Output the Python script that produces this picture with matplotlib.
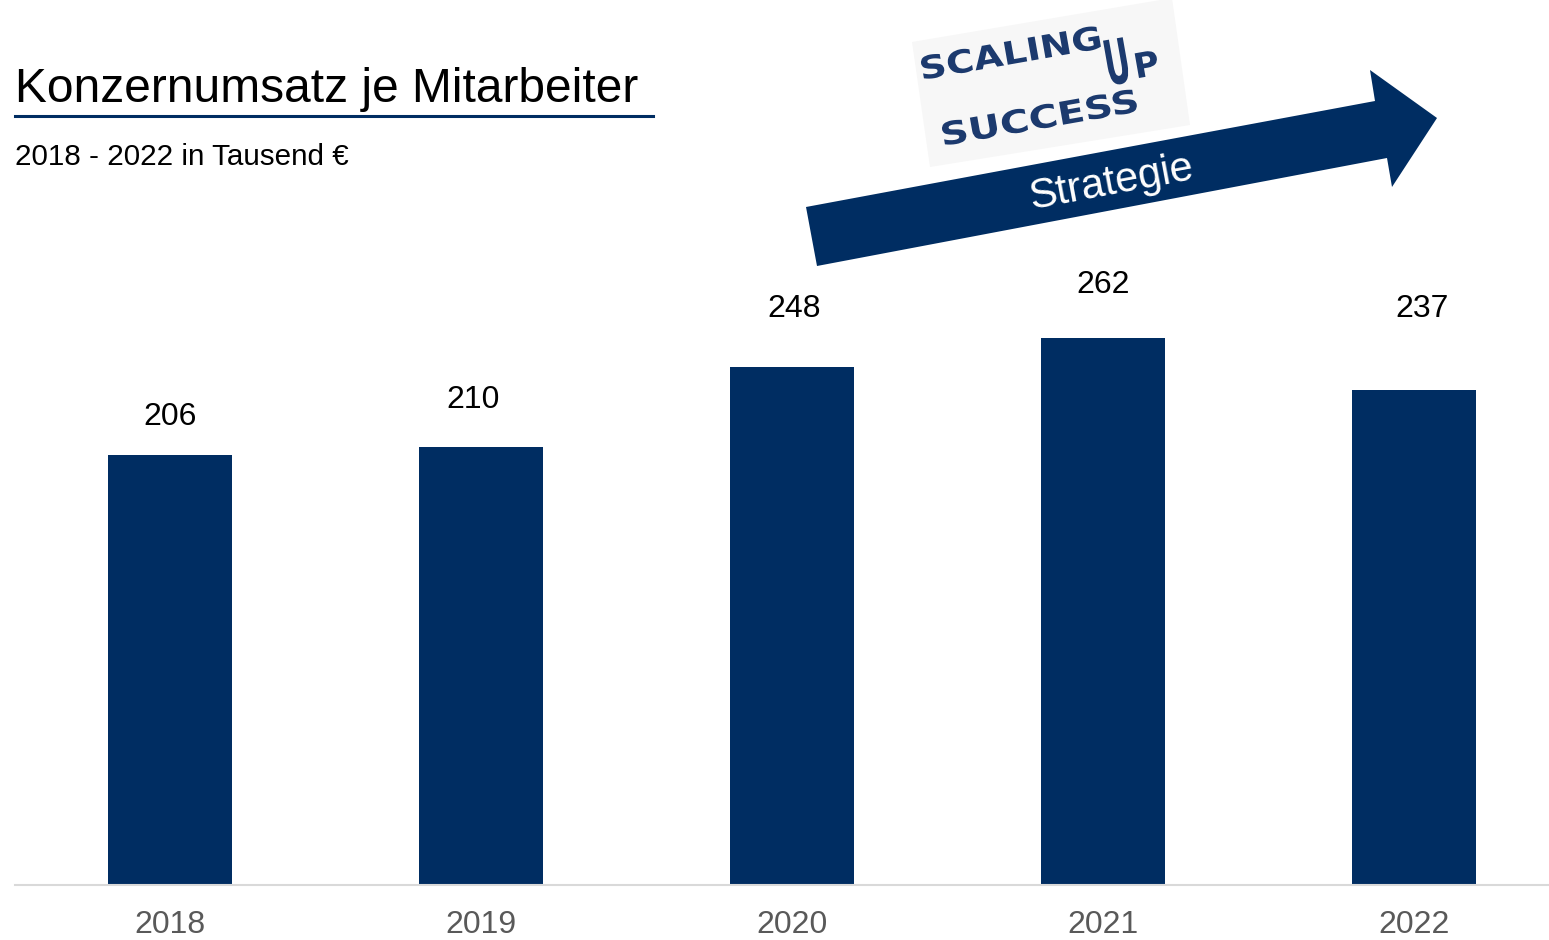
import matplotlib.pyplot as plt
from matplotlib.patches import Polygon, PathPatch
from matplotlib.lines import Line2D
from matplotlib.textpath import TextPath
from matplotlib.font_manager import FontProperties
from matplotlib.transforms import Affine2D

plt.rcParams['font.family'] = ['Liberation Sans', 'DejaVu Sans']

# data
years = ['2018', '2019', '2020', '2021', '2022']
umsatz = [206, 210, 248, 262, 237]

NAVY = '#002d62'
W, H = 1549, 940


def fx(x):
    return x / W


def fy(y):
    return 1 - y / H


fig = plt.figure(figsize=(W / 100, H / 100), dpi=100)

# bar chart
ax = fig.add_axes([fx(15), fy(885), fx(W - 15), (885 - 140) / H])
ax.bar(range(len(years)), umsatz, width=0.4, color=NAVY, zorder=2)
ax.set_xlim(-0.498, 4.434)
ax.set_ylim(0, 745 / 2.0875)

# value labels (offsets in pixels above the bar top, as in the original slide)
label_dy = [38, 47, 58, 53, 81]
label_dx = [0, -8, 2, 0, 8]
for i, v in enumerate(umsatz):
    ax.annotate(str(v), (i, v), xytext=(label_dx[i], label_dy[i]),
                textcoords='offset pixels', ha='center', va='center',
                fontsize=23, color='black')

ax.set_xticks(range(len(years)))
ax.set_xticklabels(years, fontsize=23, color='#595959')
ax.tick_params(axis='x', length=0, pad=18)
ax.set_yticks([])
for s in ['left', 'right', 'top']:
    ax.spines[s].set_visible(False)
ax.spines['bottom'].set_color('#d9d9d9')
ax.spines['bottom'].set_linewidth(1.5)

# title, underline and subtitle
fig.text(fx(15), fy(102), 'Konzernumsatz je Mitarbeiter', fontsize=34.5,
         va='baseline', ha='left')
fig.add_artist(Line2D([fx(15), fx(653)], [fy(116), fy(116)], color=NAVY,
                      lw=2.2, transform=fig.transFigure))
fig.text(fx(15), fy(165), '2018 - 2022 in Tausend €', fontsize=21.3,
         va='baseline', ha='left')

# strategy arrow
arrow_px = [(806, 207), (1375, 101), (1370, 70), (1437, 118),
            (1392, 187), (1387, 158), (817, 266)]
fig.add_artist(Polygon([(fx(x), fy(y)) for x, y in arrow_px], closed=True,
                       fc=NAVY, ec='none', transform=fig.transFigure))
fig.text(fx(1111), fy(183), 'Strategie', fontsize=30, color='white',
         rotation=10.6, rotation_mode='anchor', ha='center', va='center')

# "Scaling up success" logo
logo_bg = [(912, 42), (1172, -2), (1190, 125), (930, 167)]
fig.add_artist(Polygon([(fx(x), fy(y)) for x, y in logo_bg], closed=True,
                       fc='#f7f7f7', ec='none', transform=fig.transFigure))

px_to_fig = Affine2D().scale(1 / W, 1 / H) + fig.transFigure


def logo_word(s, x, y, w, h, angle, weight='bold'):
    prop = FontProperties(family='DejaVu Sans', weight=weight)
    tp = TextPath((0, 0), s, size=100, prop=prop)
    ext = tp.get_extents()
    tr = (Affine2D().translate(-ext.x0, -ext.y0)
          .scale(w / ext.width, h / ext.height)
          .rotate_deg(angle).translate(x, H - y))
    fig.add_artist(PathPatch(tr.transform_path(tp), fc='#1c3a6e', ec='none',
                             transform=px_to_fig))


logo_word('SCALING', 924, 80, 180, 24, 10)
logo_word('SUCCESS', 945, 146, 196, 24, 10)
logo_word('U', 1111, 86, 20, 46, 10)
logo_word('P', 1139, 78, 21, 25, 10)

fig.savefig('out.png', dpi=100)
